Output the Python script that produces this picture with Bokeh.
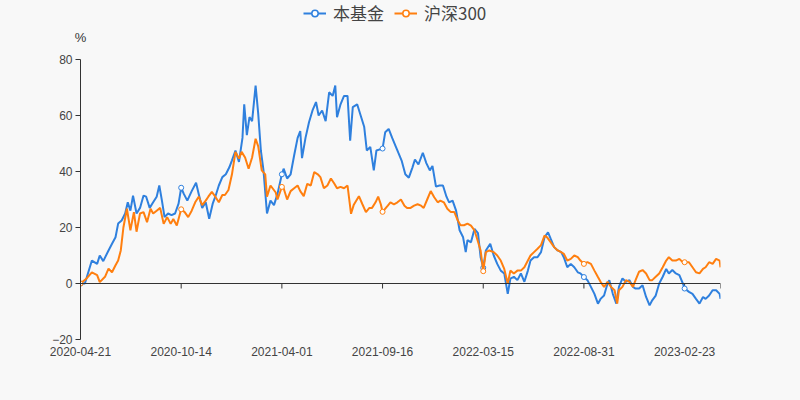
from bokeh.plotting import figure
from bokeh.layouts import column
from bokeh.models import Range1d, FixedTicker, Span, Label, Legend, LegendItem
from bokeh.embed import file_html
from bokeh.resources import INLINE

# trading-day index since 2020-04-21
fund_days = [0, 5, 13, 19, 22, 26, 32, 36, 40, 43,
             47, 51, 54, 57, 60, 64, 68, 72, 75, 79,
             83, 87, 90, 93, 96, 100, 104, 108, 112, 115,
             118, 122, 127, 132, 135, 139, 143, 147, 151, 154,
             158, 162, 166, 170, 173, 177, 181, 185, 187, 190,
             193, 196, 200, 203, 206, 209, 213, 217, 221, 225,
             230, 232, 236, 240, 244, 248, 251, 253, 257, 261,
             265, 269, 272, 276, 280, 284, 288, 291, 293, 297,
             301, 305, 308, 311, 316, 320, 324, 327, 331, 335,
             338, 343, 345, 348, 352, 356, 360, 363, 367, 371,
             375, 379, 382, 386, 391, 395, 399, 402, 406, 410,
             414, 418, 421, 425, 429, 433, 437, 440, 442, 446,
             450, 454, 457, 460, 463, 468, 472, 476, 480, 484,
             488, 491, 495, 499, 503, 507, 511, 514, 518, 522,
             526, 530, 534, 537, 541, 545, 549, 552, 556, 560,
             564, 568, 571, 575, 579, 583, 587, 591, 594, 598,
             602, 604, 608, 612, 615, 619, 623, 627, 631, 634,
             638, 642, 646, 650, 653, 657, 661, 665, 669, 672,
             676, 680, 684, 688, 690, 695, 699, 703, 707, 711,
             714, 718, 722, 726, 730, 731]
fund_vals = [0, 0, 8.2, 7, 10, 8, 11.8, 14.2, 16.5, 21.4,
             22.5, 25, 29, 26, 31.4, 25, 27, 31.4, 31, 27,
             29, 31, 35, 29.6, 23.7, 25, 24.4, 25, 28.5, 34.2,
             32, 29.6, 33, 36, 32, 27, 29, 23.1, 28.5, 31,
             35, 38, 39, 41.5, 44, 47.5, 43.4, 52, 64, 53,
             59.4, 58, 70.7, 60.6, 47.5, 40.4, 25, 29.6, 28, 32,
             39, 41, 37.5, 39, 45.7, 52, 54.4, 44.8, 52, 57.6,
             61.8, 64.8, 60, 61.8, 58, 68.3, 67, 70.7, 59.4, 64,
             67, 67, 51, 63, 64, 60, 56, 47.5, 48.8, 40.4,
             47.5, 48, 48.2, 54, 55.2, 52, 49, 46.7, 43.7, 39,
             37.8, 41.3, 44.3, 42.5, 46.7, 43, 40.4, 42, 34.6, 35,
             35, 31, 29, 29.6, 26, 19, 16.5, 11.2, 15.5, 14.7,
             19.5, 18, 9.4, 5.6, 11.8, 14.2, 10, 7, 4.6, 3.6,
             -3.7, 1.7, 2.4, 1.2, 3.6, 0.6, 4.6, 8.2, 9.4, 9.4,
             11.2, 16.5, 18.3, 16, 13, 11.8, 11.2, 9.4, 5.8, 7,
             5.8, 4, 3.6, 2.3, 1.2, -1.2, -3.7, -7.2, -5.5, -4.3,
             0, 1.2, -3.7, -7.2, -1.2, 1.8, 0.6, 1.2, -1.2, -1.8,
             -1.8, -0.6, -4.8, -7.8, -6, -4.3, 0, 2.4, 5.2, 3.6,
             4.8, 3.6, 3, 0, -1.8, -3, -3.7, -5.5, -7.2, -4.8,
             -5.5, -4.3, -2.4, -2.4, -3.7, -5.5]

hs_days = [0, 7, 13, 19, 22, 28, 32, 36, 40, 43,
           46, 49, 53, 57, 61, 64, 68, 72, 76, 80,
           83, 87, 91, 95, 99, 103, 106, 110, 115, 119,
           123, 127, 131, 135, 139, 143, 146, 150, 154, 158,
           162, 165, 169, 173, 177, 181, 184, 188, 192, 196,
           200, 203, 207, 211, 213, 217, 223, 225, 230, 232,
           236, 240, 244, 248, 251, 255, 259, 263, 267, 271,
           274, 278, 282, 286, 290, 293, 297, 301, 305, 309,
           312, 318, 322, 326, 330, 333, 337, 340, 343, 345,
           351, 354, 358, 362, 366, 370, 373, 377, 381, 385,
           389, 392, 396, 400, 404, 408, 411, 415, 419, 423,
           427, 431, 434, 438, 442, 446, 450, 453, 457, 460,
           463, 467, 472, 476, 480, 484, 488, 491, 495, 499,
           503, 507, 511, 514, 518, 522, 526, 530, 533, 537,
           541, 545, 549, 552, 556, 560, 564, 568, 571, 575,
           579, 583, 587, 591, 594, 598, 602, 606, 610, 613,
           615, 619, 623, 627, 631, 634, 638, 642, 646, 650,
           653, 657, 661, 665, 669, 672, 676, 680, 684, 688,
           690, 695, 699, 703, 707, 711, 714, 718, 722, 726,
           730, 731]
hs_vals = [0, 1.8, 4, 3, 0.5, 2.4, 5.3, 4, 6.5, 8.2,
           11.8, 20, 26.7, 19, 25.5, 18.5, 25, 25.5, 21.9, 26.7,
           25, 26, 27, 21.3, 23.7, 21.3, 23, 20.7, 26.5, 25.5,
           23.7, 26, 29, 31, 28, 29.6, 31, 32.7, 31, 29,
           31.6, 31.6, 33.4, 39, 47, 44.6, 47, 45, 41, 45,
           51.7, 49, 40.4, 39, 31, 35, 32.5, 30, 34.5, 34,
           30, 33, 34, 35, 33, 31.2, 35.6, 35, 39.8, 39,
           38, 34, 35, 37.5, 35.6, 34, 34.5, 34, 35, 24.9,
           28, 31.2, 28.3, 25.5, 27, 27, 29, 31, 28.3, 25.6,
           27.8, 29, 28.3, 29, 30, 27.8, 27, 27, 27.8, 28.3,
           27.8, 27, 30, 33, 30.8, 29, 29.6, 29, 26.7, 25.5,
           25.5, 22.5, 20.8, 20.8, 21.4, 20.7, 19, 16, 11.8, 4.4,
           11.2, 11.8, 11.2, 10, 8.2, 5.2, 0, 4.6, 3.6, 4.6,
           4.6, 5.8, 8.2, 10, 11.2, 12.4, 13.7, 17.1, 16.5, 14.8,
           13, 11.8, 11.2, 10.6, 8.2, 8.8, 10, 9.4, 8.2, 7,
           7.6, 7, 4.6, 2.3, 0.6, -1.2, 0.6, -1.2, -2.4, -7.2,
           -2.4, -1.2, 1.2, 0.6, -1.2, 1.2, 4.2, 4.8, 3.6, 1.2,
           1.2, 2.4, 3.6, 5.8, 8.2, 9.4, 8.2, 8.2, 8.8, 7.6,
           7.6, 7.6, 5.8, 4, 3.6, 5.2, 5.8, 7.6, 7, 8.8,
           8.2, 5.8]

tick_days = [0, 115, 230, 345, 460, 575, 690]
tick_labels = ["2020-04-21", "2020-10-14", "2021-04-01", "2021-09-16",
               "2022-03-15", "2022-08-31", "2023-02-23"]
y_ticks = [-20, 0, 20, 40, 60, 80]
series_names = ["本基金", "沪深300"]
unit_text = "%"

BG = "#f8f8f8"
BLUE = "#2f80de"
ORANGE = "#ff7f0f"
AXIS = "#333333"
TXT = "#444444"
NUM_FONT = "Liberation Sans"
CJK_FONT = "Noto Sans CJK SC"

W = 800
HEAD_H = 45
MAIN_H = 400 - HEAD_H
FRAME_H = 280
last_day = max(fund_days[-1], hs_days[-1])

# ---------- header strip: legend + unit ----------
head = figure(width=W, height=HEAD_H, output_backend="svg", toolbar_location=None, title=None,
              x_range=Range1d(0, W), y_range=Range1d(0, HEAD_H),
              x_axis_type=None, y_axis_type=None, frame_align=False,
              min_border_left=0, min_border_right=0, min_border_top=0, min_border_bottom=0,
              background_fill_color=BG, border_fill_color=BG, outline_line_color=None)
head.grid.visible = False
nan = float("nan")
hb = head.line([nan], [nan], line_color=BLUE, line_width=2)
hbm = head.scatter([nan], [nan], marker="circle", size=9, fill_color="white", line_color=BLUE, line_width=1.5)
ho = head.line([nan], [nan], line_color=ORANGE, line_width=2)
hom = head.scatter([nan], [nan], marker="circle", size=9, fill_color="white", line_color=ORANGE, line_width=1.5)
legend = Legend(items=[LegendItem(label=series_names[0], renderers=[hb, hbm]),
                       LegendItem(label=series_names[1], renderers=[ho, hom])],
                orientation="horizontal", location=(303, 20),
                background_fill_alpha=0, border_line_color=None,
                padding=0, margin=0, spacing=10,
                glyph_width=23, glyph_height=16, label_height=16, label_standoff=7,
                label_text_font=CJK_FONT, label_text_font_size="17px",
                label_text_color=TXT, label_text_baseline="middle")
head.add_layout(legend)
head.add_layout(Label(x=80, y=HEAD_H - 37, text=unit_text, text_align="center", text_baseline="middle",
                      text_font=NUM_FONT, text_font_size="13px", text_color=AXIS))

# ---------- main chart ----------
p = figure(width=W, height=MAIN_H, output_backend="svg", toolbar_location=None, title=None,
           x_range=Range1d(0, last_day), y_range=Range1d(y_ticks[0], y_ticks[-1]),
           frame_align=False,
           min_border_left=80, min_border_right=80, min_border_top=59 - HEAD_H, min_border_bottom=61,
           background_fill_color=BG, border_fill_color=BG, outline_line_color=None)
p.grid.visible = False

xa = p.xaxis[0]
xa.ticker = FixedTicker(ticks=tick_days)
xa.major_label_overrides = {d: s for d, s in zip(tick_days, tick_labels)}
xa.axis_line_color = None
xa.major_tick_line_color = None
xa.minor_tick_line_color = None
xa.major_tick_out = 0
xa.major_tick_in = 0
xa.major_label_standoff = 7
xa.major_label_text_font = NUM_FONT
xa.major_label_text_font_size = "12px"
xa.major_label_text_color = TXT

ya = p.yaxis[0]
ya.ticker = FixedTicker(ticks=y_ticks)
ya.axis_line_color = AXIS
ya.major_tick_line_color = AXIS
ya.minor_tick_line_color = None
ya.major_tick_out = 5
ya.major_tick_in = 0
ya.major_label_standoff = 3
ya.major_label_text_font = NUM_FONT
ya.major_label_text_font_size = "12px"
ya.major_label_text_color = TXT

p.add_layout(Span(location=0, dimension="width", line_color=AXIS, line_width=1))
tick_len = 5 * (y_ticks[-1] - y_ticks[0]) / FRAME_H
tx = tick_days + [last_day]
p.segment(x0=tx, y0=[0] * len(tx), x1=tx, y1=[-tick_len] * len(tx),
          line_color=AXIS, line_width=1)

fund_map = dict(zip(fund_days, fund_vals))
hs_map = dict(zip(hs_days, hs_vals))

p.line(fund_days, fund_vals, line_color=BLUE, line_width=2)
p.scatter([d for d in tick_days if d in fund_map], [fund_map[d] for d in tick_days if d in fund_map],
          marker="circle", size=5, fill_color="white", line_color=BLUE, line_width=1)
p.line(hs_days, hs_vals, line_color=ORANGE, line_width=2)
p.scatter([d for d in tick_days if d in hs_map], [hs_map[d] for d in tick_days if d in hs_map],
          marker="circle", size=5, fill_color="white", line_color=ORANGE, line_width=1)

layout = column(head, p, spacing=0)
html = file_html(layout, INLINE)
html = html.replace("</head>", "<style>html, body { background: %s; }</style></head>" % BG, 1)
open("out.html", "w").write(html)
